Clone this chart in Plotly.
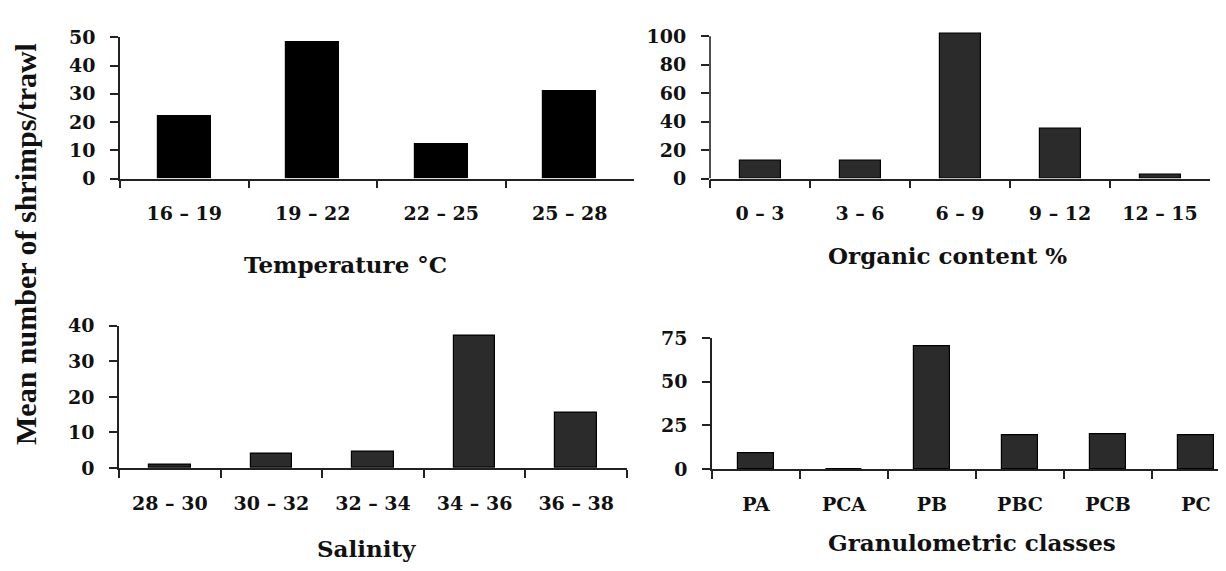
import plotly.graph_objects as go

W, H = 1226, 571
OFF = 8  # default page margin of the HTML body

temp_cats = ["16 – 19", "19 – 22", "22 – 25", "25 – 28"]
temp_vals = [22, 48.4, 12, 31]

org_cats = ["0 – 3", "3 – 6", "6 – 9", "9 – 12", "12 – 15"]
org_vals = [12.5, 12.5, 102, 35, 2.5]

sal_cats = ["28 – 30", "30 – 32", "32 – 34", "34 – 36", "36 – 38"]
sal_vals = [1, 4.1, 4.7, 37.3, 15.5]

gran_cats = ["PA", "PCA", "PB", "PBC", "PCB", "PC"]
gran_vals = [9.2, 0, 70.2, 19.2, 20.1, 19.2]

y_title = "Mean number of shrimps/trawl"
x_titles = ["Temperature °C", "Organic content %", "Salinity", "Granulometric classes"]

TICK_FONT = dict(family="DejaVu Serif", size=19, color="#111111", weight="bold")
TITLE_FONT = dict(family="DejaVu Serif", size=23, color="#111111", weight="bold")
AX = "#222222"


def fx(px):
    return (px - OFF) / W


def fy(py):
    return 1 - (py - OFF) / H


panels = [
    # cats, vals, color, x0, x1, y0(px of 0), ytop(px of axis max), axis max, dtick, headroom
    (temp_cats, temp_vals, "#000000", 120, 634, 174, 27, 50, 10, 0),
    (org_cats, org_vals, "#2b2b2b", 710, 1210, 174, 26, 100, 20, 4),
    (sal_cats, sal_vals, "#2b2b2b", 119, 627, 475, 327, 40, 10, 0),
    (gran_cats, gran_vals, "#2b2b2b", 712, 1240, 476, 340, 75, 25, 0),
]

fig = go.Figure()
layout = {}
shapes = []
for i, (cats, vals, col, x0, x1, yb, yt, ymax, dt, head) in enumerate(panels, start=1):
    xa = "x" if i == 1 else f"x{i}"
    ya = "y" if i == 1 else f"y{i}"
    fig.add_trace(go.Bar(
        x=cats, y=vals, xaxis=xa, yaxis=ya, width=0.41,
        marker=dict(color=col, line=dict(color="#000000", width=1.2)),
        showlegend=False,
    ))
    n = len(cats)
    pxu = (yb - yt) / ymax
    ytop_px = yt - head * pxu
    layout[f"xaxis{'' if i == 1 else i}"] = dict(
        domain=[fx(x0), min(fx(x1), 1.0)], anchor=ya, type="category",
        range=[-0.5, n - 0.5 - max(0, (x1 - OFF - W)) / ((x1 - x0) / n)],
        showline=True, linecolor=AX, linewidth=1.6,
        ticks="outside", tickson="boundaries", ticklen=8, tickwidth=1.6, tickcolor=AX,
        showgrid=False, zeroline=False, tickfont=TICK_FONT, ticklabelstandoff=17,
    )
    layout[f"yaxis{'' if i == 1 else i}"] = dict(
        domain=[fy(yb), fy(ytop_px)], anchor=xa, range=[0, ymax + head],
        tickvals=list(range(0, ymax + 1, dt)),
        showline=(head == 0), linecolor=AX, linewidth=1.6,
        ticks="outside", ticklen=8, tickwidth=1.6, tickcolor=AX,
        showgrid=False, zeroline=False, tickfont=TICK_FONT, ticklabelstandoff=11,
    )
    if head:
        shapes.append(dict(
            type="line", xref=f"{xa} domain", yref=ya, x0=0, x1=0, y0=0, y1=ymax,
            line=dict(color=AX, width=1.6),
        ))

title_pos = [(345, 263), (947, 254), (366, 559), (972, 552)]
annotations = []
for t, (px, py) in zip(x_titles, title_pos):
    annotations.append(dict(
        text=t, x=fx(px), y=fy(py), xref="paper", yref="paper",
        xanchor="center", yanchor="middle", showarrow=False, font=TITLE_FONT,
    ))
annotations.append(dict(
    text=y_title, x=fx(26), y=fy(242), xref="paper", yref="paper",
    xanchor="center", yanchor="middle", showarrow=False, textangle=-90,
    font=dict(family="Liberation Serif", size=30, color="#111111", weight="bold"),
))

fig.update_layout(
    width=W, height=H, margin=dict(l=0, r=0, t=0, b=0),
    paper_bgcolor="white", plot_bgcolor="white", bargap=0,
    annotations=annotations, shapes=shapes, **layout,
)

fig.write_html("out.html")
